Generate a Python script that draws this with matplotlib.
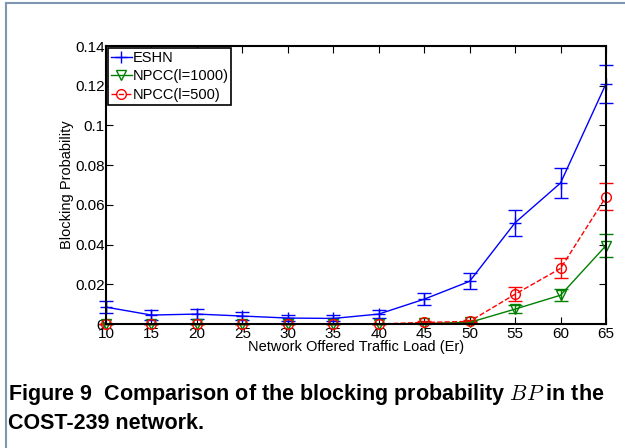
import matplotlib
matplotlib.use("Agg")
import matplotlib.pyplot as plt
from matplotlib.lines import Line2D

loads = [10, 15, 20, 25, 30, 35, 40, 45, 50, 55, 60, 65]
eshn = [0.0085, 0.0045, 0.005, 0.004, 0.003, 0.0028, 0.005, 0.0125, 0.0215, 0.051, 0.071, 0.121]
eshn_err = [0.003, 0.0025, 0.0025, 0.002, 0.0015, 0.0015, 0.002, 0.003, 0.004, 0.0065, 0.0075, 0.0095]
npcc1000 = [0, 0, 0, 0, 0, 0, 0, 0.0003, 0.0008, 0.0075, 0.0145, 0.0395]
npcc1000_err = [0, 0, 0, 0, 0, 0, 0, 0.0003, 0.0005, 0.002, 0.003, 0.006]
npcc500 = [0, 0, 0, 0, 0, 0, 0, 0.0008, 0.0013, 0.015, 0.028, 0.064]
npcc500_err = [0, 0, 0, 0, 0, 0, 0, 0.0005, 0.0005, 0.0035, 0.005, 0.0068]
xticks = [10, 15, 20, 25, 30, 35, 40, 45, 50, 55, 60, 65]
yticks = [0, 0.02, 0.04, 0.06, 0.08, 0.1, 0.12, 0.14]
ytick_labels = ["0", "0.02", "0.04", "0.06", "0.08", "0.1", "0.12", "0.14"]

plt.rcParams['font.family'] = ['Liberation Sans', 'DejaVu Sans']
plt.rcParams['mathtext.fontset'] = 'cm'

fig = plt.figure(figsize=(6.25, 4.48), dpi=100)
ax = fig.add_axes([106/625, 1-324/448, 500/625, 278/448])

blue = '#0000ff'
green = (0, 0.5, 0)
red = '#ff0000'
series = [
    (eshn, eshn_err, blue, '+', 'none', '-', 'ESHN'),
    (npcc1000, npcc1000_err, green, 'v', 'none', '-', 'NPCC(l=1000)'),
    (npcc500, npcc500_err, red, 'o', 'none', '--', 'NPCC(l=500)'),
]
handles = []
for vals, errs, col, mk, mfc, ls, lab in series:
    ms = 9 if mk == '+' else 7
    cont = ax.errorbar(loads, vals, yerr=errs, color=col, marker=mk, markersize=ms,
                       markerfacecolor=mfc, linestyle=ls, linewidth=1, elinewidth=1,
                       capsize=5)
    for art in cont.lines[0:1]:
        art.set_clip_on(False)
    for art in cont.lines[1]:
        art.set_clip_on(False)
    handles.append(Line2D([], [], color=col, marker=mk, markersize=ms,
                          markerfacecolor=mfc, linestyle=ls, linewidth=1, label=lab))

ax.set_xlim(10, 65)
ax.set_ylim(0, 0.14)
ax.set_xticks(xticks)
ax.set_yticks(yticks)
ax.set_yticklabels(ytick_labels)
ax.tick_params(direction='in', top=True, right=True, labelsize=11, length=5)
ax.tick_params(axis='x', pad=2.5)
ax.tick_params(axis='y', pad=1)
for s in ax.spines.values():
    s.set_linewidth(1.5)
ax.set_xlabel('Network Offered Traffic Load (Er)', fontsize=10.5, labelpad=-1)
ax.set_ylabel('Blocking Probability', fontsize=10.5, labelpad=1)

leg = ax.legend(handles=handles, loc='upper left', fontsize=10.5, frameon=True, fancybox=False,
                borderpad=0.2, labelspacing=0.3, handlelength=1.4, handletextpad=0.05,
                borderaxespad=0.15, framealpha=1)
leg.get_frame().set_edgecolor('black')
leg.get_frame().set_linewidth(1.2)

fig.add_artist(Line2D([6/625, 1.0], [1-3/448, 1-3/448], color='#7f96b2', linewidth=1.5))
fig.add_artist(Line2D([6/625, 6/625], [0, 1-3/448], color='#7f96b2', linewidth=1.5))

fig.text(8/625, 1-394/448, r'Figure 9  Comparison of the blocking probability $BP$ in the',
         fontsize=15.5, fontweight='bold', va='center', ha='left')
fig.text(8/625, 1-423/448, 'COST-239 network.',
         fontsize=15.5, fontweight='bold', va='center', ha='left')

fig.savefig('out.png', dpi=100)
